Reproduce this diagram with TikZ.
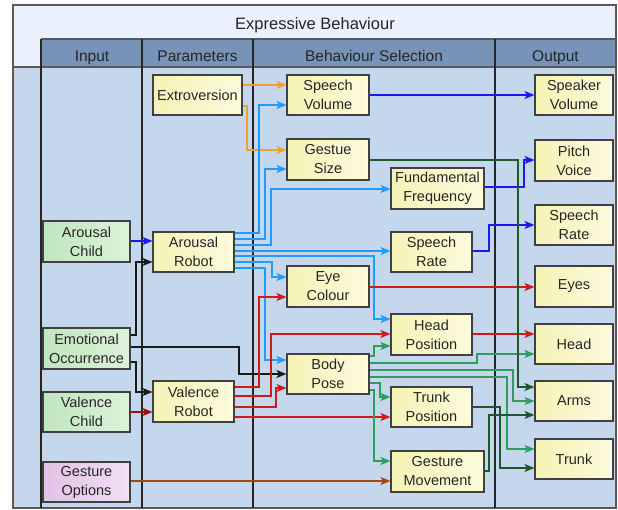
\documentclass[tikz,border=0pt]{standalone}
\usepackage{fontspec}
\setmainfont{Liberation Sans}
\usepackage{tikz}
\usetikzlibrary{arrows.meta}

\definecolor{bodyblue}{HTML}{C5D7EC}
\definecolor{titlebg}{HTML}{EAF1FC}
\definecolor{headbg}{HTML}{7793B7}
\definecolor{ylwL}{HTML}{F5F2B6}
\definecolor{ylwR}{HTML}{FCFBDC}
\definecolor{grnL}{HTML}{C0E5BE}
\definecolor{grnR}{HTML}{DDF2DA}
\definecolor{pnkL}{HTML}{E2C2E6}
\definecolor{pnkR}{HTML}{F1DFF2}
\definecolor{cLBlue}{HTML}{1E9CFF}
\definecolor{cDBlue}{HTML}{1A1AF0}
\definecolor{cOrange}{HTML}{F5A023}
\definecolor{cRed}{HTML}{D01A1A}
\definecolor{cDRed}{HTML}{A01010}
\definecolor{cBrown}{HTML}{A8460F}
\definecolor{cGreen}{HTML}{2E9E5C}
\definecolor{cDGreen}{HTML}{1C5A2C}

\begin{document}
\begin{tikzpicture}[x=1pt,y=-1pt,
	box/.style={draw=black!75,line width=1.1pt,minimum height=40pt,inner sep=0pt,align=center,
		left color=ylwL,right color=ylwR,text=black!85,font=\fontsize{14.5}{19}\selectfont},
	inbox/.style={box,left color=grnL,right color=grnR},
	optbox/.style={box,left color=pnkL,right color=pnkR},
	head/.style={anchor=base,text=black!85,font=\fontsize{15.5}{19}\selectfont},
	con/.style={line width=1.2pt,-{Stealth[length=10pt,width=8pt,inset=2.5pt]}},
	lb/.style={con,cLBlue}, db/.style={con,cDBlue}, orng/.style={con,cOrange},
	rd/.style={con,cRed}, drd/.style={con,cDRed}, brn/.style={con,cBrown},
	grn/.style={con,cGreen}, dgrn/.style={con,cDGreen}, blk/.style={con,black!90}]
	\useasboundingbox (0,0) rectangle (618,510);

	% frame
	\fill[bodyblue] (13,5) rectangle (616,508);
	\fill[titlebg] (13,5) rectangle (616,39);
	\fill[titlebg] (13,39) rectangle (41,67);
	\fill[headbg] (41,39) rectangle (616,67);
	\draw[black!65,line width=1.2pt] (13,5) rectangle (616,508);
	\draw[black!65,line width=1.2pt] (41,39) -- (616,39);
	\draw[black!65,line width=1.2pt] (13,67) -- (616,67);
	\foreach \x in {41,142,253,495}
		\draw[black!85,line width=1.1pt] (\x,39) -- (\x,508);

	\node[anchor=base,text=black!85,font=\fontsize{16.5}{20}\selectfont] at (315,30) {Expressive Behaviour};
	\node[head] at (92,62) {Input};
	\node[head] at (197.5,62) {Parameters};
	\node[head] at (374,62) {Behaviour Selection};
	\node[head] at (555.5,62) {Output};

	% input
	\node[inbox,minimum width=87pt,minimum height=41pt] (achild) at (86.5,241.5) {Arousal\\Child};
	\node[inbox,minimum width=87pt,minimum height=41pt] (emot) at (86.5,348.5) {Emotional\\Occurrence};
	\node[inbox,minimum width=87pt] (vchild) at (86.5,412) {Valence\\Child};
	\node[optbox,minimum width=87pt] (gopt) at (86.5,482) {Gesture\\Options};

	% parameters
	\node[box,minimum width=89pt] (extro) at (197.5,95) {Extroversion};
	\node[box,minimum width=81pt] (arobot) at (193.5,252) {Arousal\\Robot};
	\node[box,minimum width=81pt,minimum height=41pt] (vrobot) at (193.5,401.5) {Valence\\Robot};

	% behaviour selection
	\node[box,minimum width=82pt] (spvol) at (328,95) {Speech\\Volume};
	\node[box,minimum width=82pt,minimum height=41pt] (gsize) at (328,159.5) {Gestue\\Size};
	\node[box,minimum width=93pt,minimum height=41pt] (fundf) at (437.5,188.5) {Fundamental\\Frequency};
	\node[box,minimum width=81pt] (sprate) at (431.5,252) {Speech\\Rate};
	\node[box,minimum width=82pt,minimum height=41pt] (eyecol) at (328,286.5) {Eye\\Colour};
	\node[box,minimum width=81pt,minimum height=41pt] (headpos) at (431.5,334.5) {Head\\Position};
	\node[box,minimum width=82pt] (bpose) at (328,374) {Body\\Pose};
	\node[box,minimum width=81pt] (trunkpos) at (431.5,407) {Trunk\\Position};
	\node[box,minimum width=93pt,minimum height=41pt] (gmove) at (437.5,471.5) {Gesture\\Movement};

	% output
	\node[box,minimum width=78pt] (spkvol) at (574,95) {Speaker\\Volume};
	\node[box,minimum width=78pt,minimum height=41pt] (pitch) at (574,160.5) {Pitch\\Voice};
	\node[box,minimum width=78pt] (oprate) at (574,225) {Speech\\Rate};
	\node[box,minimum width=78pt,minimum height=41pt] (eyes) at (574,286.5) {Eyes};
	\node[box,minimum width=78pt] (head) at (574,344) {Head};
	\node[box,minimum width=78pt] (arms) at (574,401) {Arms};
	\node[box,minimum width=78pt] (trunk) at (574,459) {Trunk};

	% connectors
	\draw[orng] (extro.east|-0,85) -- (spvol.west|-0,85);
	\draw[orng] (extro.east|-0,106) -| (247,150) -- (gsize.west|-0,150);

	\draw[lb] (arobot.east|-0,233) -| (259,105) -- (spvol.west|-0,105);
	\draw[lb] (arobot.east|-0,239) -| (265,169) -- (gsize.west|-0,169);
	\draw[lb] (arobot.east|-0,245) -| (271,189) -- (fundf.west|-0,189);
	\draw[lb] (arobot.east|-0,251) -- (sprate.west|-0,251);
	\draw[lb] (arobot.east|-0,256) -| (374,319) -- (headpos.west|-0,319);
	\draw[lb] (arobot.east|-0,262) -| (272,277) -- (eyecol.west|-0,277);
	\draw[lb] (arobot.east|-0,268) -| (265,360) -- (bpose.west|-0,360);

	\draw[db] (achild.east|-0,241) -- (arobot.west|-0,241);
	\draw[db] (spvol) -- (spkvol);
	\draw[db] (fundf.east|-0,187) -| (524,160) -- (pitch.west|-0,160);
	\draw[db] (sprate.east|-0,251) -| (489,225) -- (oprate.west);

	\draw[blk] (emot.east|-0,335) -| (136,262) -- (arobot.west|-0,262);
	\draw[blk] (emot.east|-0,347) -| (239,374) -- (bpose.west);
	\draw[blk] (emot.east|-0,362) -| (136,392) -- (vrobot.west|-0,392);

	\draw[drd] (vchild.east|-0,412) -- (vrobot.west|-0,412);
	\draw[rd] (vrobot.east|-0,387) -| (259,297) -- (eyecol.west|-0,297);
	\draw[rd] (vrobot.east|-0,396) -| (271,334) -- (headpos.west|-0,334);
	\draw[rd] (vrobot.east|-0,407) -| (276,388) -- (bpose.west|-0,388);
	\draw[rd] (vrobot.east|-0,417) -- (trunkpos.west|-0,417);
	\draw[rd] (eyecol.east|-0,287) -- (eyes.west|-0,287);
	\draw[rd] (headpos.east|-0,334) -- (head.west|-0,334);

	\draw[brn] (gopt.east|-0,481) -- (gmove.west|-0,481);

	\draw[grn] (bpose.east|-0,356) -| (374,346) -- (headpos.west|-0,346);
	\draw[grn] (bpose.east|-0,363) -| (477,354) -- (head.west|-0,354);
	\draw[grn] (bpose.east|-0,370) -| (513,401) -- (arms.west);
	\draw[grn] (bpose.east|-0,377) -| (507,449) -- (trunk.west|-0,449);
	\draw[grn] (bpose.east|-0,383) -| (380,397) -- (trunkpos.west|-0,397);
	\draw[grn] (bpose.east|-0,390) -| (374,461) -- (gmove.west|-0,461);

	\draw[dgrn] (gsize.east|-0,160) -| (518,387) -- (arms.west|-0,387);
	\draw[dgrn] (trunkpos.east|-0,407) -| (500,468) -- (trunk.west|-0,468);
	\draw[dgrn] (gmove.east|-0,471) -| (489,415) -- (arms.west|-0,415);
\end{tikzpicture}
\end{document}
